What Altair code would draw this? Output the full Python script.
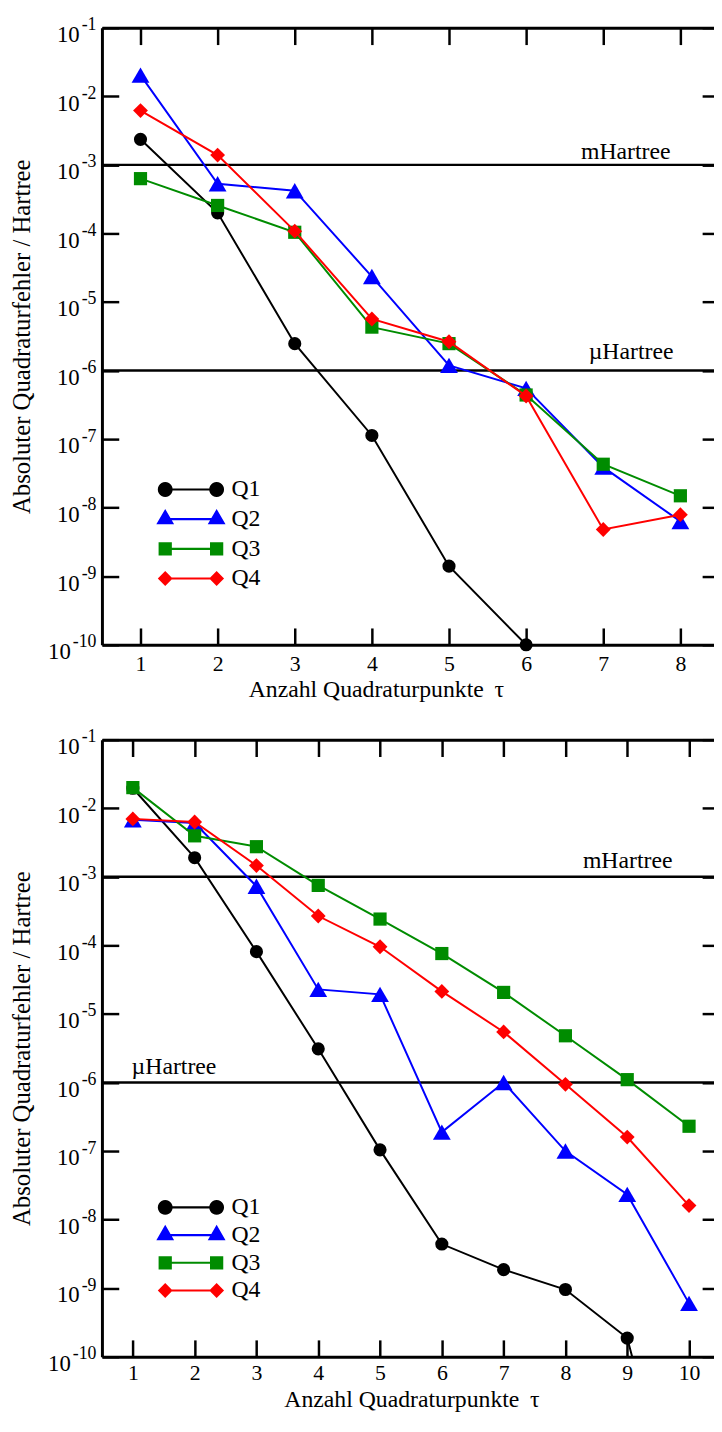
import altair as alt
import numpy as np
import pandas as pd

FONT = "Liberation Serif"

series = ["Q1", "Q2", "Q3", "Q4"]
colors = ["#000000", "#0000ff", "#008c00", "#ff0000"]
shapes = ["circle", "triangle-up", "square", "diamond"]
sizes = [177, 324, 178, 225]

# ---- top panel data ----
tau_top = [1, 2, 3, 4, 5, 6, 7, 8]
q1_top = [2.36e-3, 2.0e-4, 2.47e-6, 1.13e-7, 1.4e-9, 1.0e-10]
q2_top = [2.04e-2, 5.3e-4, 4.2e-4, 2.35e-5, 1.19e-6, 5.5e-7, 3.9e-8, 6.3e-9]
q3_top = [6.3e-4, 2.56e-4, 1.04e-4, 4.3e-6, 2.47e-6, 4.4e-7, 4.3e-8, 1.49e-8]
q4_top = [6.2e-3, 1.39e-3, 1.08e-4, 5.65e-6, 2.63e-6, 4.25e-7, 4.8e-9, 7.9e-9]

# ---- bottom panel data ----
tau_bot = [1, 2, 3, 4, 5, 6, 7, 8, 9, 10]
q1_bot = [1.96e-2, 1.9e-3, 8.1e-5, 3.1e-6, 1.04e-7, 4.4e-9, 1.86e-9, 9.55e-10, 1.87e-10, 7e-14]
q2_bot = [6.8e-3, 6.1e-3, 7.3e-4, 2.28e-5, 1.93e-5, 1.89e-7, 1.0e-6, 1.0e-7, 2.33e-8, 6.0e-10]
q3_bot = [2.0e-2, 3.96e-3, 2.75e-3, 7.5e-4, 2.42e-4, 7.6e-5, 2.06e-5, 4.8e-6, 1.1e-6, 2.3e-7]
q4_bot = [7.0e-3, 6.3e-3, 1.46e-3, 2.68e-4, 9.55e-5, 2.13e-5, 5.46e-6, 9.4e-7, 1.6e-7, 1.6e-8]

y_ticks = [1e-1, 1e-2, 1e-3, 1e-4, 1e-5, 1e-6, 1e-7, 1e-8, 1e-9, 1e-10]
ref_values = [1e-3, 1e-6]
ref_labels = ["mHartree", "\u00b5Hartree"]
x_title = "Anzahl Quadraturpunkte \u2009\u03c4"
y_title = "Absoluter Quadraturfehler / Hartree"

W, H = 619, 624
GAP = 96

# ---- legend symbols: line with a marker at each end (custom SVG paths) ----
U = 7.0  # px per path unit (symbolSize = (2U)^2)
D = 26.0


def poly(pts):
    return "M" + " L".join(f"{x / U:.3f},{y / U:.3f}" for x, y in pts) + " Z"


def m_circle(cx, r=7.5, n=24):
    return poly([(cx + r * np.cos(a), r * np.sin(a)) for a in np.linspace(0, 2 * np.pi, n, endpoint=False)])


def m_tri(cx, r=9.0):
    h = r * np.tan(np.pi / 6)
    return poly([(cx, -2 * h), (cx + r, h), (cx - r, h)])


def m_square(cx, a=6.7):
    return poly([(cx - a, -a), (cx + a, -a), (cx + a, a), (cx - a, a)])


def m_diamond(cx, a=7.5):
    return poly([(cx - a, 0), (cx, -a), (cx + a, 0), (cx, a)])


bar = poly([(-D, -1.1), (D, -1.1), (D, 1.1), (-D, 1.1)])
legend_paths = [
    " ".join([bar, f(-D), f(D)]) for f in (m_circle, m_tri, m_square, m_diamond)
]


def panel(tau, data, x_max, title_x, title_y, lab_pad, ann, legend_y, row_pad, clip_q1_points):
    rows = []
    for s, vals in zip(series, data):
        for t, v in zip(tau, vals):
            rows.append({"tau": t, "err": v, "series": s})
    df = pd.DataFrame(rows)
    xs = alt.Scale(domain=[0.5, x_max], nice=False, zero=False)
    ys = alt.Scale(type="log", domain=[1e-10, 1e-1], nice=False)

    def ax_x(kind):
        if kind == "main":
            return alt.Axis(orient="bottom", values=tau, ticks=False, tickSize=0,
                            domain=True, domainWidth=3, domainColor="black",
                            labelFontSize=22, labelPadding=lab_pad, labelBaseline="alphabetic",
                            labelFlush=False,
                            title=x_title, titleFontSize=24, titleFontWeight="normal",
                            titleX=title_x, titleY=title_y, titleBaseline="alphabetic")
        if kind == "in_bottom":
            return alt.Axis(orient="top", offset=-H, values=tau, labels=False, domain=False,
                            ticks=True, tickSize=17, tickWidth=2.5, tickColor="black", title=None)
        if kind == "in_top":
            return alt.Axis(orient="bottom", offset=-H, values=tau, labels=False,
                            domain=True, domainWidth=3, domainColor="black",
                            ticks=True, tickSize=17, tickWidth=2.5, tickColor="black", title=None)
        return None

    def ax_y(kind):
        if kind == "main":
            return alt.Axis(orient="left", values=y_ticks, ticks=False, tickSize=0,
                            domain=True, domainWidth=3, domainColor="black",
                            labelExpr="'10'", labelFontSize=23, labelOffset=14,
                            labelBaseline="alphabetic",
                            labelPadding={"condition": {"test": "datum.value < 5e-10", "value": 32},
                                          "value": 23},
                            labelOverlap=False, labelFlush=False,
                            title=y_title, titleFontSize=25, titleFontWeight="normal",
                            titlePadding=13)
        if kind == "in_left":
            return alt.Axis(orient="right", offset=-W, values=y_ticks, labels=False, domain=False,
                            ticks=True, tickSize=17, tickWidth=2.5, tickColor="black", title=None)
        if kind == "in_right":
            return alt.Axis(orient="left", offset=-W, values=y_ticks, labels=False, domain=False,
                            ticks=True, tickSize=12, tickWidth=2.5, tickColor="black", title=None)
        if kind == "exp":
            return alt.Axis(orient="left", values=y_ticks, ticks=False, tickSize=0, domain=False,
                            labelExpr="'' + round(log(datum.value) / LN10)", labelFontSize=18,
                            labelOffset=2, labelBaseline="alphabetic", labelPadding=6,
                            labelOverlap=False, labelFlush=False, title=None)
        return None

    axis_plan = [("main", "main"), ("in_bottom", "in_left"), ("in_top", "in_right"), (None, "exp")]

    layers = []
    ref_df = pd.DataFrame({"v": ref_values, "t": ref_labels})
    layers.append(alt.Chart(ref_df).mark_rule(color="black", strokeWidth=2.5).encode(
        y=alt.Y("v:Q", scale=ys, axis=None)))

    k = 0
    for i, s in enumerate(series):
        sub = alt.Chart(df).transform_filter(alt.datum.series == s)
        kx, ky = axis_plan[k] if k < len(axis_plan) else (None, None)
        k += 1
        layers.append(sub.mark_line(color=colors[i], strokeWidth=2, clip=True).encode(
            x=alt.X("tau:Q", scale=xs, axis=ax_x(kx)),
            y=alt.Y("err:Q", scale=ys, axis=ax_y(ky))))
        kx, ky = axis_plan[k] if k < len(axis_plan) else (None, None)
        k += 1
        layers.append(sub.mark_point(filled=True, shape=shapes[i], size=sizes[i], color=colors[i],
                                     opacity=1, clip=(clip_q1_points and i == 0)).encode(
            x=alt.X("tau:Q", scale=xs, axis=ax_x(kx)),
            y=alt.Y("err:Q", scale=ys, axis=ax_y(ky))))

    for (lab, val, xpx, align, dy) in ann:
        adf = pd.DataFrame({"v": [val], "t": [lab]})
        layers.append(alt.Chart(adf).mark_text(align=align, baseline="alphabetic", dy=dy,
                                               font=FONT, fontSize=24, color="black").encode(
            x=alt.value(xpx), y=alt.Y("v:Q", scale=ys, axis=None), text="t:N"))

    leg = alt.Legend(orient="none", legendX=78, legendY=legend_y, title=None,
                     symbolSize=4 * U * U, symbolStrokeWidth=0, labelFont=FONT,
                     labelFontSize=24, labelColor="black", labelOffset=29, padding=0,
                     rowPadding=row_pad, symbolOffset=0, labelLimit=0)
    layers.append(alt.Chart(df).transform_filter("false").mark_point(filled=True, opacity=1).encode(
        x=alt.X("tau:Q", scale=xs, axis=None),
        y=alt.Y("err:Q", scale=ys, axis=None),
        fill=alt.Fill("series:N", scale=alt.Scale(domain=series, range=colors), legend=leg),
        shape=alt.Shape("series:N", scale=alt.Scale(domain=series, range=legend_paths), legend=leg)))

    return alt.layer(*layers).resolve_axis(x="independent", y="independent").properties(
        width=W, height=H)


top = panel(tau_top, [q1_top, q2_top, q3_top, q4_top], 8.436, 277, 52, 26,
            [("mHartree", 1e-3, 575, "right", -6), ("\u00b5Hartree", 1e-6, 578, "right", -12)],
            455, 6, False)
bottom = panel(tau_bot, [q1_bot, q2_bot, q3_bot, q4_bot], 10.404, 313, 50, 23,
               [("mHartree", 1e-3, 577, "right", -9), ("\u00b5Hartree", 1e-6, 30, "left", -9)],
               461, 4, True)

total_h = 1411
chart = alt.vconcat(top, bottom, spacing=GAP, bounds="flush").resolve_scale(
    fill="independent", shape="independent").properties(
    autosize=alt.AutoSizeParams(type="none"),
    padding={"left": 95, "top": 12, "right": 0, "bottom": total_h - 12}).configure(
    font=FONT).configure_view(strokeWidth=0).configure_axis(
    grid=False, labelFont=FONT, titleFont=FONT, labelColor="black", titleColor="black")

chart.save("out.html", embed_options={"renderer": "svg", "actions": False})
